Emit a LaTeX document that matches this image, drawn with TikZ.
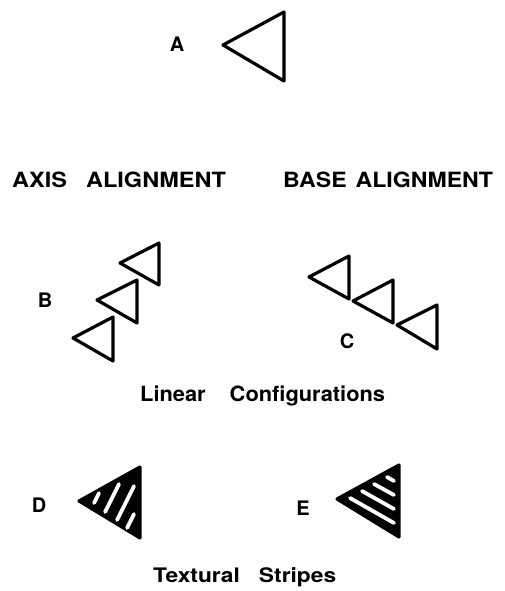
\documentclass[tikz,border=0pt]{standalone}
\usepackage{fontspec}
\setmainfont{TeX Gyre Heros}
\begin{document}
\begin{tikzpicture}[x=1pt,y=-1pt,
  tri/.style={draw=black, line width=3.2pt, line join=round},
  solidtri/.style={draw=black, fill=black, line width=3.2pt, line join=round},
  stripe/.style={draw=white, line width=3.8pt, line cap=round},
  lbl/.style={font=\bfseries\fontsize{20}{20}\selectfont, inner sep=0pt, anchor=base},
  heading/.style={font=\bfseries\fontsize{21}{21}\selectfont, inner sep=0pt, anchor=base west}]
\useasboundingbox (0,0) rectangle (505,591);
% A
\node[lbl] (la) at (177,52) {A};
\draw[tri] (223,45) -- (284,12) -- (284,81) -- cycle;
% headings
\node[heading] (axis) at (12,187) {\scalebox{1.12}[1]{AXIS}\hspace{19pt}\scalebox{1.12}[1]{ALIGNMENT}};
\node[heading] (base) at (283,187) {\scalebox{1.1}[1]{BASE}\hspace{9pt}\scalebox{1.1}[1]{ALIGNMENT}};
% B
\node[lbl] (lb) at (45,307) {B};
\draw[tri] (120,263) -- (159,243) -- (159,285) -- cycle;
\draw[tri] (97,300) -- (137,280) -- (137,323) -- cycle;
\draw[tri] (73,338) -- (113,317) -- (113,361) -- cycle;
% C
\node[lbl] (lc) at (347,348) {C};
\draw[tri] (309,277) -- (349,256) -- (349,299) -- cycle;
\draw[tri] (353,301) -- (393,280) -- (393,323) -- cycle;
\draw[tri] (397,325) -- (437,305) -- (437,349) -- cycle;
\node[heading] (lin) at (140,401) {\scalebox{1.04}[1]{Linear}\hspace{24pt}\scalebox{1.04}[1]{Configurations}};
% D
\node[lbl] (ld) at (39,512) {D};
\draw[solidtri] (79,501) -- (140,467) -- (140,538) -- cycle;
\draw[stripe] (94,503) -- (99,493);
\draw[stripe] (105,512) -- (119,484);
\draw[stripe] (117,520) -- (134,486);
\draw[stripe] (127,528) -- (134,514);
% E
\node[lbl] (le) at (303,515) {E};
\draw[solidtri] (337,499) -- (399,465) -- (399,537) -- cycle;
\draw[stripe] (387,477) -- (394,481);
\draw[stripe] (374,484) -- (394,495);
\draw[stripe] (362,491) -- (394,509);
\draw[stripe] (350,498) -- (394,523);
\node[heading, font=\bfseries\fontsize{20}{20}\selectfont] (tex) at (153,582) {\scalebox{1.14}[1]{Textural}\hspace{19pt}\scalebox{1.14}[1]{Stripes}};
\end{tikzpicture}
\end{document}
